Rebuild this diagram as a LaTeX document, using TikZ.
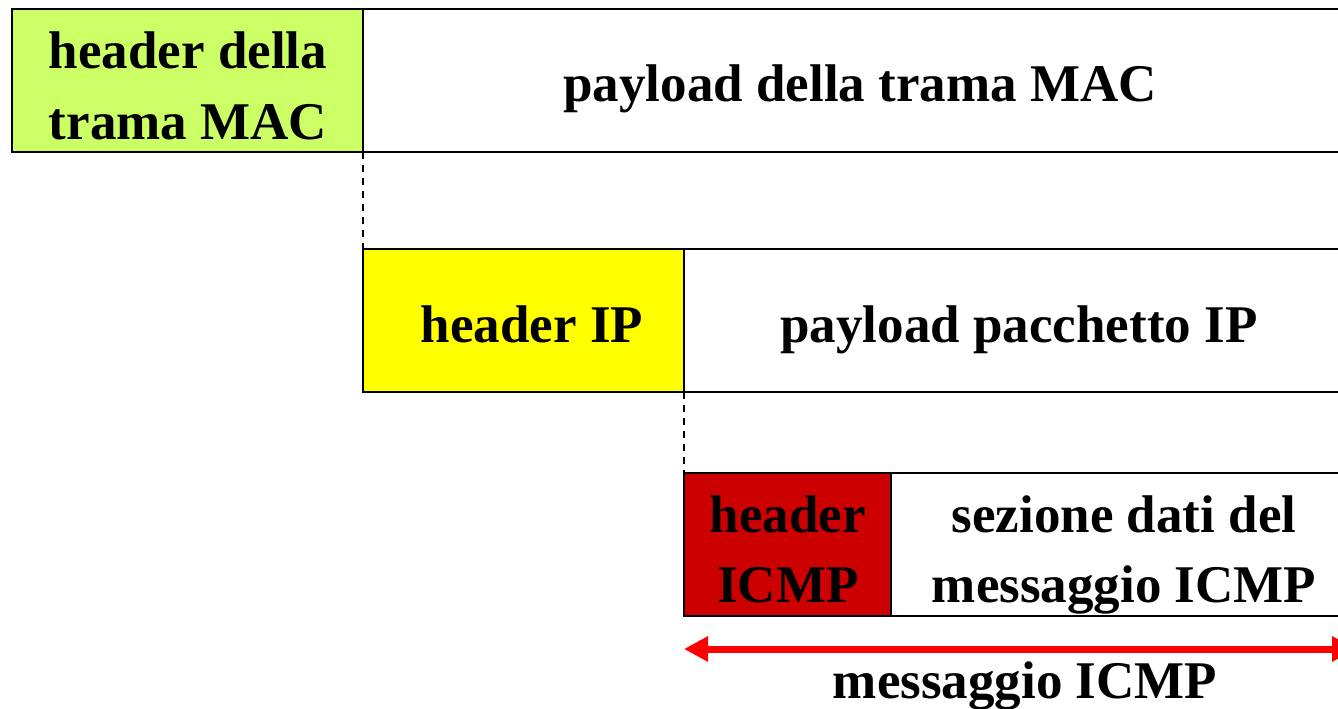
\documentclass[tikz,border=0pt]{standalone}
\usepackage{fontspec}
\setmainfont{Liberation Serif}
\usetikzlibrary{arrows.meta}
\definecolor{macgreen}{HTML}{CCFF66}
\definecolor{ipyellow}{HTML}{FFFF00}
\definecolor{icmpred}{HTML}{CC0000}
\definecolor{spanred}{HTML}{FF0000}
\begin{document}
\begin{tikzpicture}[x=1pt,y=-1pt,
  field/.style={draw=black, line width=2.6pt, rectangle, anchor=north west,
                inner sep=0pt, outer sep=0pt, minimum height=143pt},
  lbl/.style={anchor=base, inner sep=0pt,
              font=\fontsize{53}{70}\selectfont\bfseries},
  guide/.style={black, line width=1.8pt, dash pattern=on 7pt off 6pt},
  span/.style={draw=spanred, line width=7pt,
               {Triangle[length=24pt,width=24pt]}-{Triangle[length=24pt,width=24pt]}}]
\useasboundingbox (0,0) rectangle (1338,709);
\clip (0,0) rectangle (1338,709);

% MAC frame
\node[field, minimum width=1000pt] (macP) at (363,9) {};
\node[field, fill=macgreen, minimum width=351pt] (macH) at (12,9) {};

% IP packet
\node[field, minimum width=700pt] (ipP) at (684,249) {};
\node[field, fill=ipyellow, minimum width=321pt] (ipH) at (363,249) {};

% ICMP message
\node[field, minimum width=500pt] (icmpD) at (891,473) {};
\node[field, fill=icmpred, minimum width=207pt] (icmpH) at (684,473) {};

% encapsulation guides
\draw[guide] (macH.south east) -- (ipH.north west);
\draw[guide] (ipH.south east) -- (icmpH.north west);

% extent of the ICMP message
\coordinate (spanEnd) at (1356,649);
\draw[span] (icmpH.west |- spanEnd) -- (spanEnd);

% labels
\node[lbl] (tMacH1) at (188,68)  {header della};
\node[lbl] (tMacH2) at (188,139) {trama MAC};
\node[lbl] (tMacP)  at (860,101) {payload della trama MAC};
\node[lbl] (tIpH)   at (532,342) {header IP};
\node[lbl] (tIpP)   at (1019,342) {payload pacchetto IP};
\node[lbl] (tIcH1)  at (788,532) {header};
\node[lbl] (tIcH2)  at (788,602) {ICMP};
\node[lbl] (tIcD1)  at (1124,532) {sezione dati del};
\node[lbl] (tIcD2)  at (1124,602) {messaggio ICMP};
\node[lbl] (tSpan)  at (1025,698) {messaggio ICMP};
\end{tikzpicture}
\end{document}
